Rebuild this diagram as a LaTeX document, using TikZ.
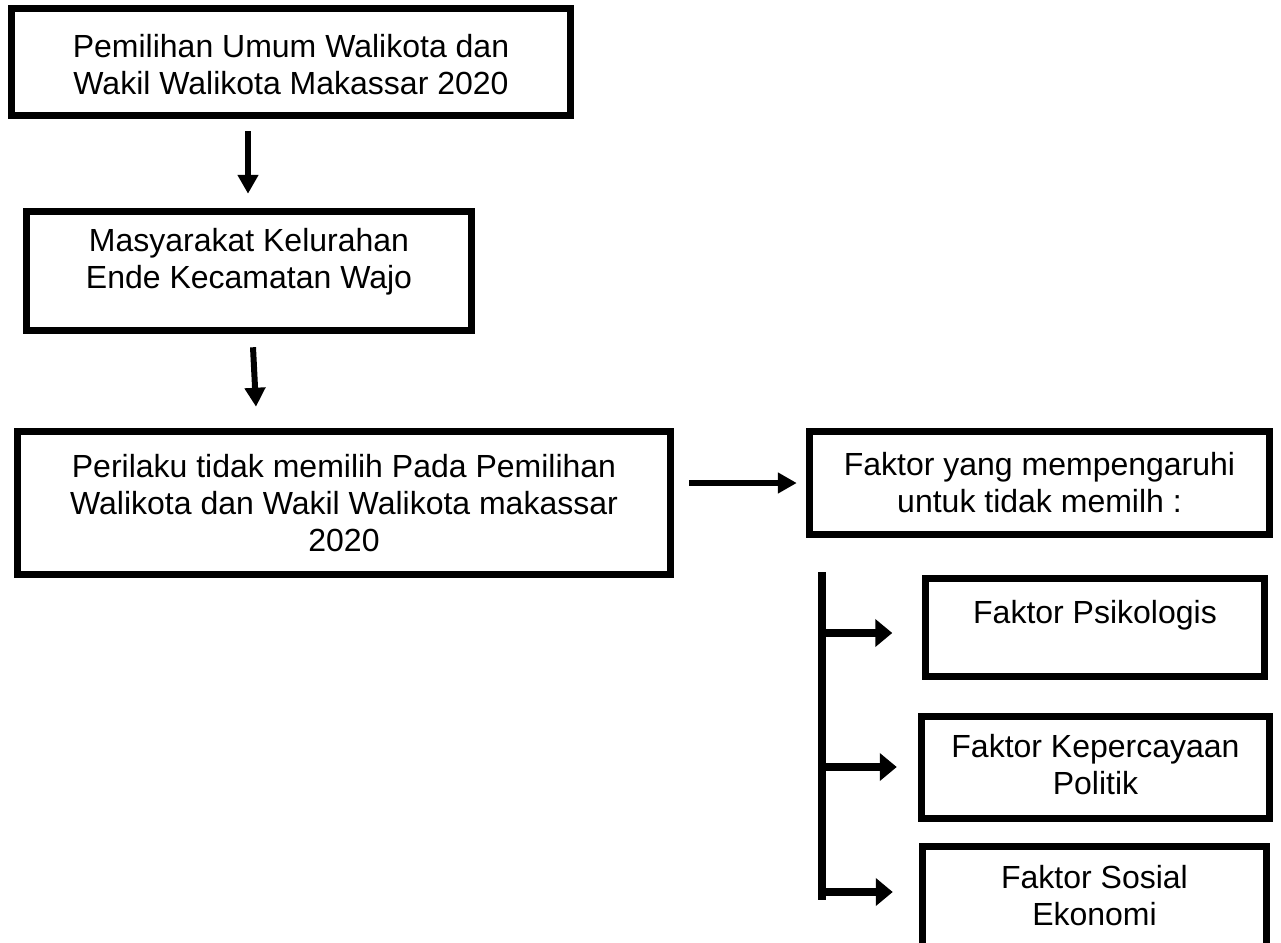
\documentclass[tikz,border=0pt]{standalone}
\usepackage{fontspec}
\setmainfont{Liberation Sans}
\usetikzlibrary{arrows.meta,calc}
\begin{document}
\begin{tikzpicture}[x=1pt,y=-1pt,
  boxnode/.style={draw,line width=6.5pt,rectangle,inner sep=0pt},
  txt/.style={align=center,inner sep=0pt,font=\fontsize{32}{37}\selectfont},
  arr/.style={line width=6pt,-{Triangle[length=19pt,width=20pt]}},
  brarr/.style={line width=8pt,-{Triangle[length=17pt,width=27pt]}},
  bar/.style={line width=8pt}]
\useasboundingbox (0,0) rectangle (1281,942);
% boxes
\node[boxnode,minimum width=559pt,minimum height=107pt] (b1) at (291,62) {};
\node[txt] (t1) at ($(b1.center)+(0,3)$) {Pemilihan Umum Walikota dan\\Wakil Walikota Makassar 2020};
\node[boxnode,minimum width=445pt,minimum height=119pt] (b2) at (249,271) {};
\node[txt] (t2) at ($(b2.center)+(0,-9)$) {Masyarakat Kelurahan\\Ende Kecamatan Wajo};
\node[boxnode,minimum width=653pt,minimum height=143pt] (b3) at (344,503) {};
\node[txt] (t3) at ($(b3.center)+(0,0)$) {Perilaku tidak memilih Pada Pemilihan\\Walikota dan Wakil Walikota makassar\\2020};
\node[boxnode,minimum width=460pt,minimum height=103pt] (b4) at (1039.5,483) {};
\node[txt] (t4) at ($(b4.center)+(0,0)$) {Faktor yang mempengaruhi\\untuk tidak memilh :};
\node[boxnode,minimum width=339pt,minimum height=98pt] (b5) at (1095,627.5) {};
\node[txt,anchor=base] (t5) at (1095,623) {Faktor Psikologis};
\node[boxnode,minimum width=348pt,minimum height=102pt] (b6) at (1095.5,767.5) {};
\node[txt] (t6) at ($(b6.center)+(0,-3)$) {Faktor Kepercayaan\\Politik};
\node[boxnode,minimum width=344pt,minimum height=150pt] (b7) at (1094.5,921.5) {};
\node[txt,anchor=base] (t7) at (1094.5,888) {Faktor Sosial};
\node[txt,anchor=base] (t7b) at (1094.5,925) {Ekonomi};
% connectors
\draw[arr] ($(b1.south)+(-43,12.5)$) -- ($(b2.north)+(-1,-14.5)$);
\draw[arr] ($(b2.south)+(4,13.5)$) -- ($(b3.north)+(-88,-21.5)$);
\draw[arr] ($(b3.east)+(15.5,-20)$) -- ($(b4.west)+(-9.5,0)$);
\coordinate (bartop) at (822,572);
\coordinate (barbot) at (822,900);
\draw[bar] (bartop) -- (barbot);
\coordinate (br1) at (822,633);
\coordinate (br2) at (822,767);
\coordinate (br3) at (822,892);
\draw[brarr] (br1) -- ($(b5.west |- br1)+(-30,0)$);
\draw[brarr] (br2) -- ($(b6.west |- br2)+(-21.5,0)$);
\draw[brarr] (br3) -- ($(b7.west |- br3)+(-26.5,0)$);
\end{tikzpicture}
\end{document}
